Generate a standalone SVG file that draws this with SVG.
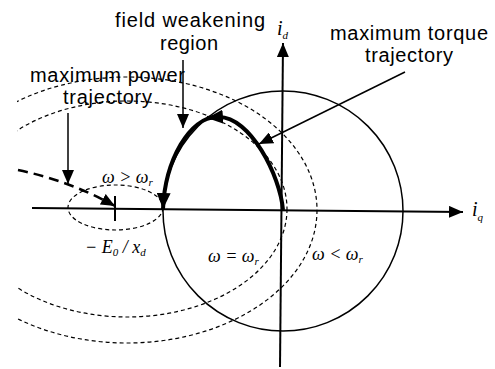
<svg xmlns="http://www.w3.org/2000/svg" width="495" height="369" viewBox="0 0 495 369">
<style>
.lbl{font-family:"Liberation Sans",Arial,sans-serif;font-size:20px;fill:#000}
.m{font-family:"Liberation Serif","Times New Roman",serif;font-style:italic;font-size:18px;fill:#000}
.ax{font-family:"Liberation Serif","Times New Roman",serif;font-style:italic;font-size:20px;fill:#000}
.sub{font-size:11px}
.dash{fill:none;stroke:#000;stroke-width:1.2;stroke-dasharray:4 3}
.thin{fill:none;stroke:#000;stroke-width:1.5}
.axis{fill:none;stroke:#000;stroke-width:2}
.thick{fill:none;stroke:#000;stroke-width:4}
</style>
<defs>
<marker id="ah" viewBox="0 0 14 12" refX="14" refY="6" markerWidth="14" markerHeight="12" orient="auto" markerUnits="userSpaceOnUse"><path d="M0,0 L14,6 L0,12 z" fill="#000"/></marker>
<marker id="ahb" viewBox="0 0 16 14" refX="16" refY="7" markerWidth="16" markerHeight="14" orient="auto" markerUnits="userSpaceOnUse"><path d="M0,0 L16,7 L0,14 z" fill="#000"/></marker>
<clipPath id="clipL"><rect x="17" y="0" width="478" height="369"/></clipPath>
</defs>
<rect width="495" height="369" fill="#fff"/>
<g id="contours">
<ellipse class="dash" cx="127" cy="210" rx="190" ry="133" clip-path="url(#clipL)"/>
<ellipse class="dash" cx="127" cy="209" rx="160" ry="108" clip-path="url(#clipL)"/>
<ellipse class="dash" cx="115.5" cy="207.5" rx="47.5" ry="22.5"/>
<circle class="thin" cx="283" cy="211" r="120"/>
</g>
<g id="axes">
<line class="axis" x1="32" y1="208" x2="463" y2="212" marker-end="url(#ah)"/>
<line class="axis" x1="280" y1="367" x2="283" y2="43" marker-end="url(#ah)"/>
<line class="axis" x1="115" y1="196" x2="115" y2="221"/>
</g>
<g id="trajectory">
<path class="thick" d="M217,117 C190,117 165,160 163,209" marker-end="url(#ahb)"/>
<path class="thick" d="M283,210 C280,175 250,117 219,117 L207,118" marker-end="url(#ahb)"/>
</g>
<g id="connectors">
<line class="thin" x1="183" y1="60" x2="183" y2="128" marker-end="url(#ah)"/>
<line class="thin" x1="68" y1="113" x2="68" y2="184" marker-end="url(#ah)"/>
<line class="thin" x1="405" y1="72" x2="259" y2="144" marker-end="url(#ah)"/>
<path d="M18,170 Q70,181 115,206" fill="none" stroke="#000" stroke-width="2.5" stroke-dasharray="10 6" marker-end="url(#ah)"/>
</g>
<g id="labels">
<text class="lbl" x="115" y="27" textLength="150">field weakening</text>
<text class="lbl" x="160" y="50" textLength="58">region</text>
<text class="lbl" x="330" y="40" textLength="158">maximum torque</text>
<text class="lbl" x="365" y="62" textLength="88">trajectory</text>
<text class="lbl" x="30" y="82" textLength="155">maximum power</text>
<text class="lbl" x="63" y="104" textLength="89">trajectory</text>
<text class="ax" x="277" y="35">i<tspan class="sub" dy="4">d</tspan></text>
<text class="ax" x="472" y="216">i<tspan class="sub" dy="5">q</tspan></text>
<text class="m" x="102" y="183">ω &gt; ω<tspan class="sub" dy="3">r</tspan></text>
<text class="m" x="85" y="253">− E<tspan class="sub" dy="3">0</tspan><tspan dy="-3"> / x</tspan><tspan class="sub" dy="3">d</tspan></text>
<text class="m" x="208" y="262">ω = ω<tspan class="sub" dy="3">r</tspan></text>
<text class="m" x="312" y="260">ω &lt; ω<tspan class="sub" dy="3">r</tspan></text>
</g>
</svg>
